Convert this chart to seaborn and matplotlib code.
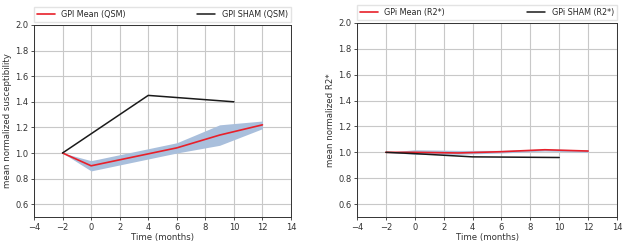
import numpy as np
import pandas as pd
import matplotlib
matplotlib.use("Agg")
import matplotlib.pyplot as plt
import seaborn as sns

sns.set_style("ticks")
plt.rcParams['font.family'] = ['DejaVu Sans']

# Left panel (QSM)
qsm_mean_t = [-2, 0, 3, 6, 9, 12]
qsm_mean = [1.00, 0.90, 0.97, 1.04, 1.14, 1.22]
qsm_low = [1.00, 0.86, 0.93, 1.00, 1.06, 1.19]
qsm_high = [1.00, 0.94, 1.01, 1.08, 1.22, 1.25]
qsm_sham_t = [-2, 4, 10]
qsm_sham = [1.00, 1.45, 1.40]

# Right panel (R2*)
r2_mean_t = [-2, 0, 3, 6, 9, 12]
r2_mean = [1.00, 1.00, 0.995, 1.005, 1.02, 1.01]
r2_low = [1.00, 0.985, 0.985, 0.995, 1.01, 1.00]
r2_high = [1.00, 1.02, 1.015, 1.015, 1.025, 1.02]
r2_sham_t = [-2, 0, 4, 10]
r2_sham = [1.00, 0.99, 0.965, 0.96]

fig = plt.figure(figsize=(6.35, 2.45), dpi=100)
ax1 = fig.add_axes([34/635, 1-217/245, 257/635, 192/245])
ax2 = fig.add_axes([357/635, 1-217/245, 260/635, 194/245])

panels = [
    (ax1, qsm_mean_t, qsm_mean, qsm_low, qsm_high, qsm_sham_t, qsm_sham,
     "GPI Mean (QSM)", "GPI SHAM (QSM)", "mean normalized susceptibility"),
    (ax2, r2_mean_t, r2_mean, r2_low, r2_high, r2_sham_t, r2_sham,
     "GPi Mean (R2*)", "GPi SHAM (R2*)", "mean normalized R2*"),
]

for ax, mt, m, lo, hi, st, s, lm, ls, ylab in panels:
    ax.fill_between(mt, lo, hi, color="#a9bfdc", linewidth=0, zorder=2)
    dfm = pd.DataFrame({"t": mt, "v": m})
    dfs = pd.DataFrame({"t": st, "v": s})
    sns.lineplot(data=dfm, x="t", y="v", ax=ax, color="#e8202a", linewidth=1.2,
                 label=lm, zorder=3)
    sns.lineplot(data=dfs, x="t", y="v", ax=ax, color="#1a1a1a", linewidth=1.1,
                 label=ls, zorder=3)
    ax.set_xlim(-4, 14)
    ax.set_ylim(0.5, 2.0)
    ax.set_xticks(np.arange(-4, 15, 2))
    ax.set_yticks(np.arange(0.6, 2.01, 0.2))
    ax.set_xticklabels(["\u22124", "\u22122", "0", "2", "4", "6", "8", "10", "12", "14"])
    ax.set_yticklabels([f"{v:.1f}" for v in np.arange(0.6, 2.01, 0.2)])
    ax.grid(True, color="#c8c8c8", linewidth=0.8)
    ax.set_axisbelow(True)
    ax.tick_params(labelsize=6, length=2.5, width=0.6, pad=1.5, colors="#333333")
    ax.set_xlabel("Time (months)", fontsize=6.2, labelpad=1, color="#333333")
    ax.set_ylabel(ylab, fontsize=6.2, labelpad=2, color="#333333")
    for sp in ax.spines.values():
        sp.set_linewidth(0.7)
        sp.set_color("#333333")
    ax.legend(loc="lower left", bbox_to_anchor=(0, 1.015, 1, 0.1), mode="expand",
              ncol=2, fontsize=5.8, frameon=True, borderaxespad=0,
              handlelength=2.2, fancybox=False, edgecolor="#dddddd")

fig.savefig("out.png", dpi=100)
